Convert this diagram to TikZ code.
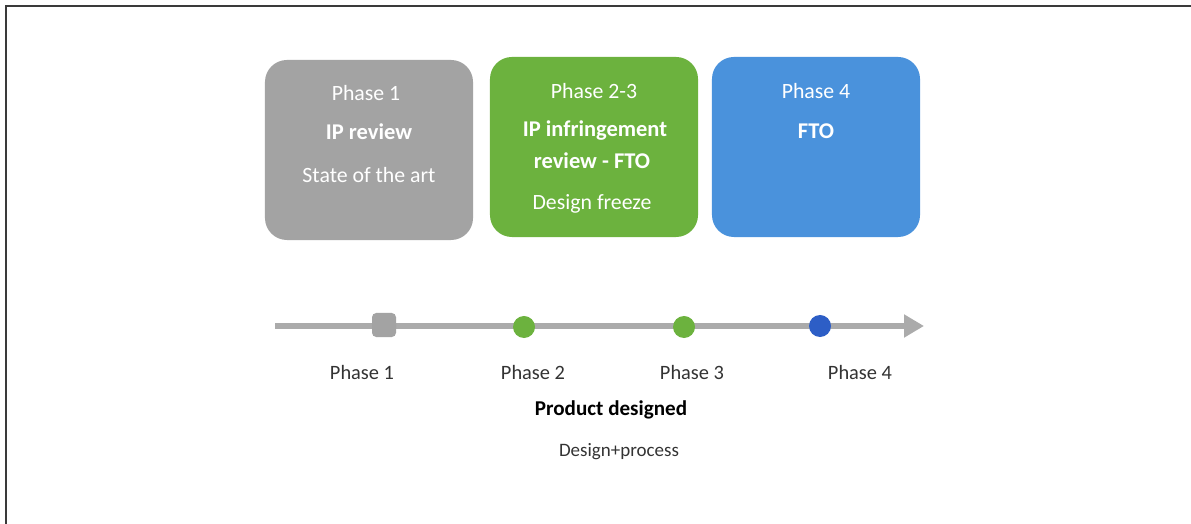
\documentclass[tikz,border=0pt]{standalone}
\usepackage{fontspec}
\setmainfont{Carlito}
\usetikzlibrary{arrows.meta,positioning}
\definecolor{phasegray}{HTML}{A3A3A3}
\definecolor{phasegreen}{HTML}{6CB23E}
\definecolor{phaseblue}{HTML}{4A92DC}
\definecolor{dotblue}{HTML}{2D5EC6}
\definecolor{axisgray}{HTML}{ABABAB}
\definecolor{framegray}{HTML}{3A3A3A}

\begin{document}
\begin{tikzpicture}[x=0.025cm,y=-0.025cm,
  phasebox/.style={rounded corners=0.55cm,minimum width=5.2cm,minimum height=4.5cm,inner sep=0pt},
  boxtext/.style={text=white,font=\fontsize{15.5}{17}\selectfont},
  boxbold/.style={text=white,font=\fontsize{16}{18}\selectfont\bfseries},
  phaselabel/.style={text=black!80,font=\fontsize{14.5}{16}\selectfont},
  milestone/.style={circle,minimum size=0.55cm,inner sep=0pt}]
  \useasboundingbox (0,0) rectangle (1191,524);

  % Frame
  \draw[framegray,line width=1.4pt] (6,524) -- (6,6) -- (1191,6);

  % Phase boxes
  \node[phasebox,fill=phasegray]  (box1) at (369,150) {};
  \node[phasebox,fill=phasegreen] (box23) at (594,147) {};
  \node[phasebox,fill=phaseblue]  (box4) at (816,147) {};

  \node[boxtext] (box1a) at (366,93)  {Phase 1};
  \node[boxbold] (box1b) at (369,132) {IP review};
  \node[boxtext] (box1c) at (369,175) {State of the art};

  \node[boxtext] (box23a) at (594,91)  {Phase 2-3};
  \node[boxbold] (box23b) at (595,131) {IP infringement};
  \node[boxbold] (box23c) at (592,161) {review - FTO};
  \node[boxtext] (box23d) at (592,204) {Design freeze};

  \node[boxtext] (box4a) at (816,91)  {Phase 4};
  \node[boxbold] (box4b) at (816,131) {FTO};

  % Timeline
  \coordinate (tstart) at (275,326);
  \coordinate (tend) at (924,326);
  \draw[axisgray,line width=3.6pt,-{Triangle[length=0.5cm,width=0.55cm]}] (tstart) -- (tend);
  \node[rounded corners=3pt,fill=phasegray,minimum size=0.6cm,inner sep=0pt] (m1) at (384,325) {};
  \node[milestone,fill=phasegreen] (m2) at (524,327) {};
  \node[milestone,fill=phasegreen] (m3) at (684,327) {};
  \node[milestone,fill=dotblue] (m4) at (820,326) {};

  \node[phaselabel] (l1) at (362,372) {Phase 1};
  \node[phaselabel] (l2) at (533,372) {Phase 2};
  \node[phaselabel] (l3) at (692,372) {Phase 3};
  \node[phaselabel] (l4) at (860,372) {Phase 4};

  \node[font=\fontsize{15}{17}\selectfont\bfseries] (prod) at (611,410) {Product designed};
  \node[text=black!80,font=\fontsize{13.5}{15}\selectfont] (proc) at (619,452) {Design+process};
\end{tikzpicture}
\end{document}
